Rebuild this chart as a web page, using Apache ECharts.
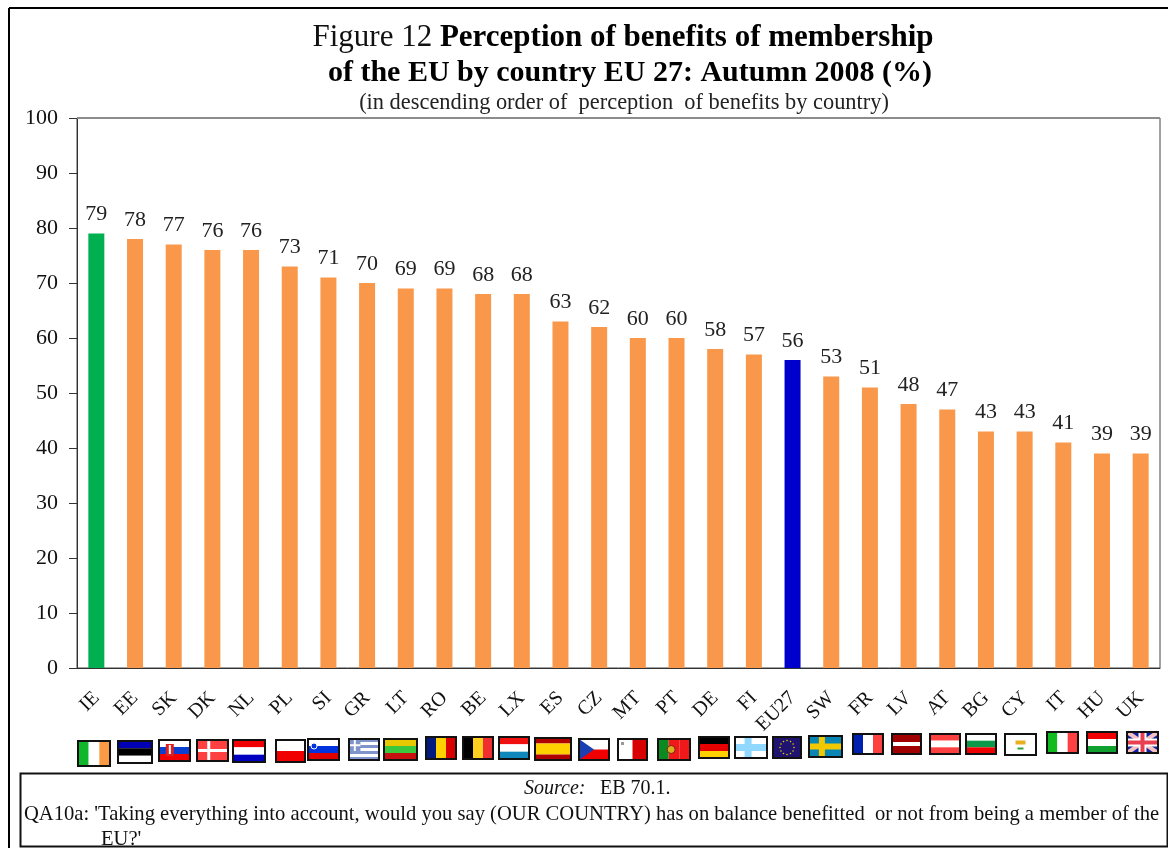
<!DOCTYPE html>
<html>
<head>
<meta charset="utf-8">
<style>
  html, body { margin: 0; padding: 0; background: #fff; }
  #chart { width: 1168px; height: 848px; }
</style>
<script src="https://cdn.jsdelivr.net/npm/echarts@6/dist/echarts.min.js"></script>
</head>
<body>
<div id="chart"></div>
<script>
const categories = ["IE","EE","SK","DK","NL","PL","SI","GR","LT","RO","BE","LX","ES","CZ","MT","PT","DE","FI","EU27","SW","FR","LV","AT","BG","CY","IT","HU","UK"];
const values = [79,78,77,76,76,73,71,70,69,69,68,68,63,62,60,60,58,57,56,53,51,48,47,43,43,41,39,39];
const yTicks = [0,10,20,30,40,50,60,70,80,90,100];

const SERIF = '"Liberation Serif", "Times New Roman", serif';
const ORANGE = "#F9984A";
const barColors = { IE: "#00B050", EU27: "#0000CC" };

// flag stripes: direction + colours
const flagColors = {
  IE: ["v", "#10B62C", "#FFFFFF", "#FB9A45"],
  EE: ["h", "#0000B4", "#000000", "#FFFFFF"],
  SK: ["h", "#FFFFFF", "#0B3FD0", "#F00000"],
  DK: ["h", "#FF4040"],
  NL: ["h", "#F00000", "#FFFFFF", "#0000C0"],
  PL: ["h", "#FFFFFF", "#F00000"],
  SI: ["h", "#FFFFFF", "#0033DD", "#E00000"],
  GR: ["h", "#7F93CC", "#FFFFFF", "#7F93CC", "#FFFFFF", "#7F93CC", "#FFFFFF", "#7F93CC"],
  LT: ["h", "#E8C800", "#3CC83C", "#C81010"],
  RO: ["v", "#001A80", "#FFD000", "#D80000"],
  BE: ["v", "#000000", "#FFD020", "#F03030"],
  LX: ["h", "#F01010", "#FFFFFF", "#1188BB"],
  ES: ["h", "#B00000", "#FFD000", "#FFD000", "#B00000"],
  CZ: ["h", "#FFFFFF", "#F00000"],
  MT: ["v", "#FFFFFF", "#D80000"],
  PT: ["v", "#0A8A20", "#F01818", "#F01818"],
  DE: ["h", "#000000", "#E80000", "#FFD000"],
  FI: ["h", "#FFFFFF", "#90D8FF", "#FFFFFF"],
  EU27: ["h", "#1E1470"],
  SW: ["h", "#0A86B4"],
  FR: ["v", "#0020B0", "#FFFFFF", "#FF4040"],
  LV: ["h", "#A00000", "#A00000", "#FFFFFF", "#A00000", "#A00000"],
  AT: ["h", "#FF4040", "#FFFFFF", "#FF4040"],
  BG: ["h", "#FFFFFF", "#0A9A4A", "#F00000"],
  CY: ["h", "#FFFFFF"],
  IT: ["v", "#10BB20", "#FFFFFF", "#FF4040"],
  HU: ["h", "#F00000", "#FFFFFF", "#10A030"],
  UK: ["h", "#1020A0"]
};

// flag boxes under the axis: [x, y, w, h]
const flagBoxes = [
  [78,741,32,25],[118,741,34,22],[159,740,31,21],[197,740,31,21],[233,740,32,22],
  [276,740,29,22],[308,739,31,21],[349,739,30,21],[384,739,33,21],[426,737,30,22],
  [463,737,30,22],[499,737,30,22],[535,738,36,22],[579,739,30,21],[618,739,29,21],
  [658,739,32,21],[699,737,30,21],[735,737,32,21],[773,737,28,21],[809,736,33,21],
  [853,734,30,20],[892,734,29,20],[930,734,30,20],[966,734,30,20],[1005,734,31,21],
  [1047,732,31,21],[1087,732,30,21],[1127,732,31,21]
];

function rect(x, y, w, h, fill) {
  return { type: "rect", shape: { x, y, width: w, height: h }, style: { fill } };
}
function line(x1, y1, x2, y2, stroke, lineWidth) {
  return { type: "line", shape: { x1, y1, x2, y2 }, style: { stroke, lineWidth } };
}

function flagGraphic(code, box) {
  const [x, y, w, h] = box;
  const spec = flagColors[code];
  const parts = [];
  const n = spec.length - 1;
  spec.slice(1).forEach((c, i) => {
    if (spec[0] === "h") parts.push(rect(x, y + h * i / n, w, h / n, c));
    else parts.push(rect(x + w * i / n, y, w / n, h, c));
  });
  const mx = x + w / 2, my = y + h / 2;
  if (code === "DK") {
    parts.push(rect(x + w * 0.33, y, 3, h, "#fff"), rect(x, my - 1.5, w, 3, "#fff"));
  } else if (code === "FI") {
    parts.push(rect(x + w * 0.3, y, 7, h, "#90D8FF"));
  } else if (code === "SW") {
    parts.push(rect(x + w * 0.3, y, 6, h, "#F2C800"), rect(x, my - 3, w, 6, "#F2C800"));
  } else if (code === "GR") {
    parts.push(rect(x, y, w * 0.38, h * 0.57, "#7F93CC"), rect(x + w * 0.16, y, 2, h * 0.57, "#fff"), rect(x, y + h * 0.25, w * 0.38, 2, "#fff"));
  } else if (code === "CZ") {
    parts.push({ type: "polygon", shape: { points: [[x, y], [x + w * 0.5, my], [x, y + h]] }, style: { fill: "#1A3FB0" } });
  } else if (code === "SK") {
    parts.push(rect(x + w * 0.22, y + 4, 8, 12, "#E02020"), rect(x + w * 0.22 + 3, y + 5, 2, 9, "#fff"));
  } else if (code === "SI") {
    parts.push({ type: "circle", shape: { cx: x + 6, cy: y + 7, r: 3 }, style: { fill: "#0033DD", stroke: "#fff" } });
  } else if (code === "PT") {
    parts.push({ type: "circle", shape: { cx: x + w * 0.41, cy: my, r: 4 }, style: { fill: "#D8B020", stroke: "#802010" } });
  } else if (code === "MT") {
    parts.push(rect(x + 3, y + 3, 3, 3, "#999"));
  } else if (code === "CY") {
    parts.push(rect(mx - 5, my - 4, 10, 4, "#E8B020"), rect(mx - 3, my + 3, 6, 2, "#30A040"));
  } else if (code === "EU27") {
    for (let i = 0; i < 12; i++) {
      const a = i * Math.PI / 6;
      parts.push({ type: "circle", shape: { cx: mx + 7 * Math.cos(a), cy: my + 7 * Math.sin(a), r: 0.8 }, style: { fill: "#E8C800" } });
    }
  } else if (code === "UK") {
    parts.push(line(x, y, x + w, y + h, "#F4C0C0", 4), line(x + w, y, x, y + h, "#F4C0C0", 4),
      rect(mx - 4, y, 8, h, "#fff"), rect(x, my - 4, w, 8, "#fff"),
      rect(mx - 2, y, 4, h, "#E84050"), rect(x, my - 2, w, 4, "#E84050"));
  }
  parts.push({ type: "rect", shape: { x, y, width: w, height: h }, style: { fill: "none", stroke: "#111", lineWidth: 2 } });
  return parts;
}

const flagElements = categories.flatMap((c, i) => flagGraphic(c, flagBoxes[i]));

const chart = echarts.init(document.getElementById("chart"));
chart.setOption({
  animation: false,
  backgroundColor: "#fff",
  title: [
    {
      left: 618,
      top: 17,
      textAlign: "center",
      text: "{a|Figure 12 }{b|Perception of benefits of membership}",
      textStyle: {
        rich: {
          a: { fontFamily: SERIF, fontSize: 31, fontWeight: "normal", color: "#111" },
          b: { fontFamily: SERIF, fontSize: 31, fontWeight: "bold", color: "#000" }
        }
      }
    },
    {
      left: 625,
      top: 53,
      textAlign: "center",
      text: "of the EU by country EU 27: Autumn 2008 (%)",
      textStyle: { fontFamily: SERIF, fontSize: 30, fontWeight: "bold", color: "#000" }
    },
    {
      left: 619,
      top: 87,
      textAlign: "center",
      text: "(in descending order of  perception  of benefits by country)",
      textStyle: { fontFamily: SERIF, fontSize: 22.4, fontWeight: "normal", color: "#222" }
    }
  ],
  grid: { left: 77, right: 8, top: 118, bottom: 180, show: true, borderColor: "#444", borderWidth: 1 },
  xAxis: {
    type: "category",
    data: categories,
    axisLine: { lineStyle: { color: "#333" } },
    axisTick: { length: 7, lineStyle: { color: "#333" } },
    axisLabel: { rotate: 45, interval: 0, margin: 27, fontFamily: SERIF, fontSize: 20, color: "#111" }
  },
  yAxis: {
    type: "value",
    min: yTicks[0],
    max: yTicks[yTicks.length - 1],
    interval: 10,
    splitLine: { show: false },
    axisLine: { show: true, lineStyle: { color: "#333" } },
    axisTick: { show: true, length: 8, lineStyle: { color: "#333" } },
    axisLabel: { margin: 19, fontFamily: SERIF, fontSize: 22, color: "#111" }
  },
  series: [{
    type: "bar",
    barWidth: 16,
    data: values.map((v, i) => ({
      value: v,
      itemStyle: { color: barColors[categories[i]] || ORANGE }
    })),
    label: { show: true, position: "top", distance: 8, fontFamily: SERIF, fontSize: 22, color: "#222" },
    markLine: {
      silent: true,
      symbol: "none",
      label: { show: false },
      lineStyle: { color: "#8C8C8C", width: 2, type: "solid" },
      data: [{ yAxis: 100 }]
    }
  }],
  graphic: { elements: [
    line(9, 8, 1168, 8, "#000", 2),
    line(9, 8, 9, 848, "#000", 2),
    { type: "rect", shape: { x: 20.5, y: 773.5, width: 1147, height: 73 }, style: { fill: "#fff", stroke: "#111", lineWidth: 2 } },
    { type: "text", x: 524, y: 779, style: { text: "Source:", font: "italic 20px " + SERIF, fill: "#111" } },
    { type: "text", x: 600, y: 779, style: { text: "EB 70.1.", font: "20px " + SERIF, fill: "#111" } },
    { type: "text", x: 24, y: 804, style: { text: "QA10a: 'Taking everything into account, would you say (OUR COUNTRY) has on balance benefitted  or not from being a member of the", font: "20.6px " + SERIF, fill: "#111" } },
    { type: "text", x: 101, y: 829, style: { text: "EU?'", font: "20.6px " + SERIF, fill: "#111" } },
    ...flagElements
  ] }
});
</script>
</body>
</html>
